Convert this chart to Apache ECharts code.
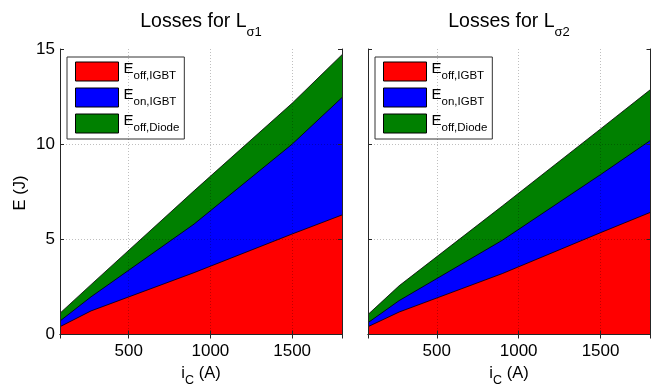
<!DOCTYPE html>
<html>
<head>
<meta charset="utf-8">
<script src="https://cdn.jsdelivr.net/npm/echarts@6/dist/echarts.min.js"></script>
<style>
html,body{margin:0;padding:0;background:#fff;}
#chart{width:659px;height:388px;}
</style>
</head>
<body>
<div id="chart"></div>
<script>
// ---- data ----
const iC = [80, 270, 900, 1500, 1805];               // collector current (A)
const xTicks = [500, 1000, 1500];
const yTicks = [0, 5, 10, 15];

// Losses for L_sigma1
const offIGBT1  = [0.41, 1.24, 3.25, 5.28, 6.28];
const onIGBT1   = [0.30, 0.74, 2.55, 4.72, 6.17];
const offDiode1 = [0.41, 0.64, 1.75, 2.15, 2.25];

// Losses for L_sigma2
const offIGBT2  = [0.41, 1.18, 3.20, 5.35, 6.42];
const onIGBT2   = [0.21, 0.60, 1.75, 3.05, 3.78];
const offDiode2 = [0.43, 0.78, 1.80, 2.40, 2.67];

const names = ['Eoff,IGBT', 'Eon,IGBT', 'Eoff,Diode'];
const subs  = {'Eoff,IGBT': 'off,IGBT', 'Eon,IGBT': 'on,IGBT', 'Eoff,Diode': 'off,Diode'};
const colors = ['#ff0000', '#0000ff', '#008000'];

const FONT = 'Arial, "Liberation Sans", Helvetica, sans-serif';
const AXC = '#262626';

const chart = echarts.init(document.getElementById('chart'), null, {renderer: 'canvas'});

const grids = [
  {left: 60, top: 49, width: 282, height: 285.5},
  {left: 368, top: 49, width: 282.5, height: 285.5}
];

// cumulative (stacked) tops, built from the component arrays
function cumulate(sets) {
  const out = [];
  let run = iC.map(() => 0);
  sets.forEach(vals => { run = run.map((r, i) => r + vals[i]); out.push(run.slice()); });
  return out;
}
function pairs(vals) { return iC.map((x, i) => [x, vals[i]]); }

const xAxes = [], yAxes = [], series = [];
[0, 1].forEach(g => {
  const common = {
    gridIndex: g, type: 'value', min: 80, max: 1805,
    splitNumber: 3, minInterval: 500, maxInterval: 500
  };
  xAxes.push(Object.assign({}, common, {
    position: 'bottom', z: 5,
    axisLine: {show: true, lineStyle: {color: AXC, width: 1}},
    axisTick: {show: true, inside: true, length: 4, lineStyle: {color: AXC}},
    axisLabel: {show: true, color: '#000', fontSize: 17, fontFamily: FONT, margin: 8,
                showMinLabel: false, showMaxLabel: false,
                formatter: v => xTicks.indexOf(v) >= 0 ? String(v) : ''},
    splitLine: {show: true, showMinLine: false, showMaxLine: false,
                lineStyle: {color: 'rgba(0,0,0,0.25)', type: [1, 2], width: 1}}
  }));
  xAxes.push(Object.assign({}, common, {
    position: 'top', z: 5,
    axisLine: {show: true, lineStyle: {color: AXC, width: 1}},
    axisTick: {show: true, inside: true, length: 4, lineStyle: {color: AXC}},
    axisLabel: {show: false}, splitLine: {show: false}
  }));
  const ycommon = {gridIndex: g, type: 'value', min: yTicks[0], max: yTicks[yTicks.length - 1], interval: 5};
  yAxes.push(Object.assign({}, ycommon, {
    position: 'left', z: 5,
    axisLine: {show: true, lineStyle: {color: AXC, width: 1}},
    axisTick: {show: true, inside: true, length: 4, lineStyle: {color: AXC}},
    axisLabel: {show: g === 0, color: '#000', fontSize: 17, fontFamily: FONT, margin: 5},
    splitLine: {show: true, showMinLine: false, showMaxLine: false,
                lineStyle: {color: 'rgba(0,0,0,0.25)', type: [1, 2], width: 1}}
  }));
  yAxes.push(Object.assign({}, ycommon, {
    position: 'right', z: 5,
    axisLine: {show: true, lineStyle: {color: AXC, width: 1}},
    axisTick: {show: true, inside: true, length: 4, lineStyle: {color: AXC}},
    axisLabel: {show: false}, splitLine: {show: false}
  }));
  const sets = g === 0 ? [offIGBT1, onIGBT1, offDiode1] : [offIGBT2, onIGBT2, offDiode2];
  const tops = cumulate(sets);
  // draw the largest cumulative area first so lower layers sit on top
  [2, 1, 0].forEach(k => {
    series.push({
      type: 'line', name: names[k], xAxisIndex: g * 2, yAxisIndex: g * 2,
      data: pairs(tops[k]), symbol: 'none', smooth: false,
      itemStyle: {color: colors[k]},
      lineStyle: {color: '#000', width: 0.8},
      areaStyle: {color: colors[k], opacity: 1, origin: 'start'},
      emphasis: {disabled: true}, silent: true, z: 2, zlevel: 0
    });
  });
});

function legendFor(left) {
  return {
    left: left, top: 57, orient: 'vertical', selectedMode: false,
    backgroundColor: '#fff', borderColor: '#333', borderWidth: 1, borderRadius: 0,
    padding: [4, 5, 5, 8], itemGap: 5, itemWidth: 43, itemHeight: 19,
    icon: 'rect',
    itemStyle: {borderColor: '#000', borderWidth: 1},
    data: names.map((n, k) => ({name: n, icon: 'rect',
      itemStyle: {color: colors[k], borderColor: '#000', borderWidth: 1}})),
    formatter: n => '{e|E}{s|' + subs[n] + '}',
    textStyle: {
      rich: {
        e: {fontSize: 15, fontFamily: FONT, color: '#000', verticalAlign: 'top'},
        s: {fontSize: 11.5, fontFamily: FONT, color: '#000', verticalAlign: 'top', padding: [9, 0, 0, 0]}
      }
    }
  };
}

function titleText(x, sub) {
  return {
    type: 'text', x: x, y: 25, silent: true,
    style: {
      text: '{a|Losses for L}{b|' + sub + '}',
      align: 'center', verticalAlign: 'middle',
      rich: {
        a: {fontSize: 19.5, fontFamily: FONT, fill: '#000', verticalAlign: 'top'},
        b: {fontSize: 13, fontFamily: FONT, fill: '#000', verticalAlign: 'top', padding: [14, 0, 0, 0]}
      }
    }
  };
}

function xName(x) {
  return {
    type: 'text', x: x, y: 376, silent: true,
    style: {
      text: '{a|i}{b|C}{a| (A)}',
      align: 'center', verticalAlign: 'middle',
      rich: {
        a: {fontSize: 16.5, fontFamily: FONT, fill: '#000', verticalAlign: 'top'},
        b: {fontSize: 12.5, fontFamily: FONT, fill: '#000', verticalAlign: 'top', padding: [9, 0, 0, 0]}
      }
    }
  };
}

chart.setOption({
  animation: false,
  backgroundColor: '#fff',
  grid: grids,
  xAxis: xAxes,
  yAxis: yAxes,
  legend: [legendFor(67), legendFor(375)],
  series: series,
  graphic: [
    titleText(201, 'σ1'),
    titleText(509, 'σ2'),
    xName(201),
    xName(509),
    {type: 'text', x: 20.5, y: 193, rotation: Math.PI / 2, silent: true,
     style: {text: 'E (J)', fontSize: 16.5, fontFamily: FONT, fill: '#000', align: 'center', verticalAlign: 'middle'}}
  ]
});
</script>
</body>
</html>
